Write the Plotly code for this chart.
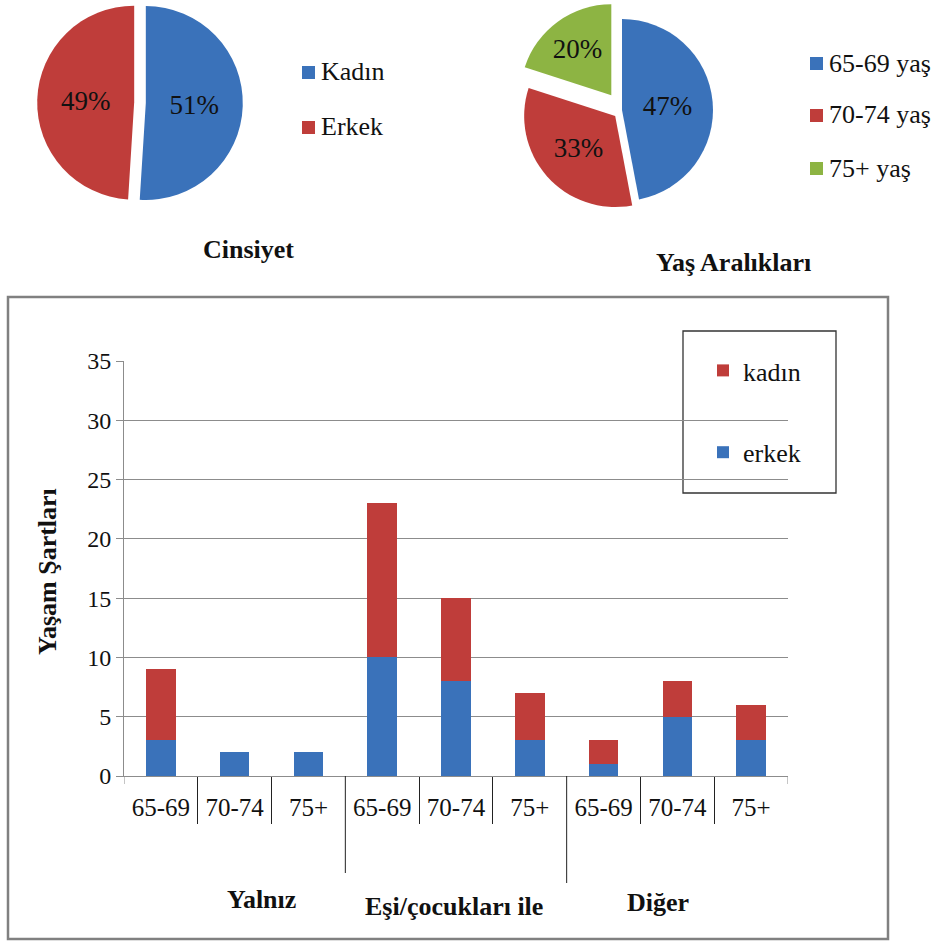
import plotly.graph_objects as go

W, H = 942, 941

# ---- data ----
gender_labels = ["Kadın", "Erkek"]
gender_values = [51, 49]
age_labels = ["65-69 yaş", "70-74 yaş", "75+ yaş"]
age_values = [47, 33, 20]

groups = ["Yalnız", "Eşi/çocukları ile", "Diğer"]
age_ticks = ["65-69", "70-74", "75+", "65-69", "70-74", "75+", "65-69", "70-74", "75+"]
erkek = [3, 2, 2, 10, 8, 3, 1, 5, 3]
kadin = [6, 0, 0, 13, 7, 4, 2, 3, 3]

BLUE = "#3a72ba"
RED = "#bf3d3a"
GREEN = "#8db443"
GRID = "#8c8c8c"
TXT = "#111111"
FONT = "'Liberation Serif', 'Times New Roman', Times, serif"


def px(x):
    return x / W


def py(y):
    return 1 - y / H


fig = go.Figure()

# ---- pies ----
fig.add_trace(go.Pie(
    labels=gender_labels, values=gender_values, sort=False, direction="clockwise",
    marker=dict(colors=[BLUE, RED], line=dict(width=0)),
    pull=[0.06, 0.06], textinfo="percent", textposition="inside",
    insidetextorientation="horizontal",
    textfont=dict(family=FONT, size=27, color=TXT),
    domain=dict(x=[px(37.2), px(242.8)], y=[py(205.6), 1.0]),
    showlegend=False,
))
fig.add_trace(go.Pie(
    labels=age_labels, values=age_values, sort=False, direction="clockwise",
    marker=dict(colors=[BLUE, RED, GREEN], line=dict(width=0)),
    pull=[0, 0.1, 0.2], textinfo="percent", textposition="inside",
    insidetextorientation="horizontal",
    textfont=dict(family=FONT, size=27, color=TXT),
    domain=dict(x=[px(512.8), px(731.2)], y=[py(219.2), py(0.8)]),
    showlegend=False,
))

# ---- stacked bars ----
xs = list(range(len(age_ticks)))
fig.add_trace(go.Bar(x=xs, y=erkek, name="erkek", marker=dict(color=BLUE, line=dict(width=0)),
                     width=0.4, legendgroup="e", legendrank=2, xaxis="x", yaxis="y"))
fig.add_trace(go.Bar(x=xs, y=kadin, name="kadın", marker=dict(color=RED, line=dict(width=0)),
                     width=0.4, legendgroup="k", legendrank=1, xaxis="x", yaxis="y"))

shapes = []
annotations = []

# pie legends (square swatch + label)
pie_legends = [
    (gender_labels, [BLUE, RED], 302, [72, 127]),
    (age_labels, [BLUE, RED, GREEN], 810, [63, 115, 168]),
]
for labels, colors, lx, ys in pie_legends:
    for lab, col, yy in zip(labels, colors, ys):
        shapes.append(dict(type="rect", xref="paper", yref="paper",
                           x0=px(lx), x1=px(lx + 13), y0=py(yy + 7), y1=py(yy - 6),
                           fillcolor=col, line=dict(width=0)))
        annotations.append(dict(text=lab, xref="paper", yref="paper", x=px(lx + 17), y=py(yy),
                                xanchor="left", yanchor="middle", showarrow=False,
                                font=dict(family=FONT, size=26, color=TXT)))

# pie titles
annotations.append(dict(text="<b>Cinsiyet</b>", xref="paper", yref="paper", x=px(248), y=py(250),
                        xanchor="center", yanchor="middle",
                        showarrow=False, font=dict(family=FONT, size=26, color=TXT)))
annotations.append(dict(text="<b>Yaş Aralıkları</b>", xref="paper", yref="paper", x=px(733), y=py(263),
                        xanchor="center", yanchor="middle",
                        showarrow=False, font=dict(family=FONT, size=26, color=TXT)))

# bar chart y title
annotations.append(dict(text="<b>Yaşam Şartları</b>", xref="paper", yref="paper", x=px(47), y=py(572),
                        xanchor="center", yanchor="middle", textangle=-90, showarrow=False,
                        font=dict(family=FONT, size=26, color=TXT)))

# group labels
group_pos = [(1.37, 899), (3.97, 906), (6.74, 902)]
for g, (gx, gy) in zip(groups, group_pos):
    annotations.append(dict(text="<b>" + g + "</b>", xref="x", yref="paper", x=gx, y=py(gy),
                            xanchor="center", yanchor="middle", showarrow=False,
                            font=dict(family=FONT, size=26, color=TXT)))

# group dividers and edge ticks
for bx, by in [(2.5, 873), (5.5, 883)]:
    shapes.append(dict(type="line", xref="x", yref="paper", x0=bx, x1=bx, y0=py(776), y1=py(by),
                       line=dict(color="#222", width=1)))
for bx in [-0.5, 8.5]:
    shapes.append(dict(type="line", xref="x", yref="paper", x0=bx, x1=bx, y0=py(776), y1=py(784),
                       line=dict(color=GRID, width=1)))

# outer frame and legend box
shapes.append(dict(type="rect", xref="paper", yref="paper", x0=px(8), x1=px(888), y0=py(939), y1=py(297),
                   line=dict(color="#808080", width=2.5), fillcolor="rgba(0,0,0,0)", layer="below"))
shapes.append(dict(type="rect", xref="paper", yref="paper", x0=px(683), x1=px(836), y0=py(493), y1=py(331),
                   line=dict(color="#333", width=1.3), fillcolor="white", layer="below"))

fig.update_layout(
    width=W, height=H, margin=dict(l=0, r=0, t=0, b=0),
    paper_bgcolor="white", plot_bgcolor="rgba(0,0,0,0)",
    barmode="stack",
    font=dict(family=FONT, color=TXT),
    shapes=shapes, annotations=annotations,
    legend=dict(x=px(703), y=py(347), xanchor="left", yanchor="top",
                traceorder="grouped", tracegroupgap=45,
                font=dict(family=FONT, size=26, color=TXT),
                bgcolor="rgba(0,0,0,0)", borderwidth=0),
    xaxis=dict(domain=[px(124), px(788)], range=[-0.5, 8.5], anchor="y",
               tickvals=xs, ticktext=age_ticks, ticks="", showgrid=False,
               showline=True, linecolor=GRID, zeroline=False,
               tickfont=dict(family=FONT, size=25, color=TXT),
               ticklabelstandoff=9, automargin=False,
               minor=dict(tickvals=[0.5, 1.5, 3.5, 4.5, 6.5, 7.5], ticks="outside",
                          ticklen=47, tickcolor="#222", tickwidth=1, showgrid=False)),
    yaxis=dict(domain=[py(776), py(361)], range=[0, 35], dtick=5, tick0=0,
               showgrid=True, gridcolor=GRID, gridwidth=1,
               ticks="outside", ticklen=7, tickcolor=GRID,
               showline=True, linecolor=GRID, zeroline=False,
               tickfont=dict(family=FONT, size=24, color=TXT), automargin=False),
)

# the page body has a default 8px margin; remove it so the figure fills the window
fig.write_html("out.html", config={"displayModeBar": False},
               post_script="document.body.style.margin='0';")
